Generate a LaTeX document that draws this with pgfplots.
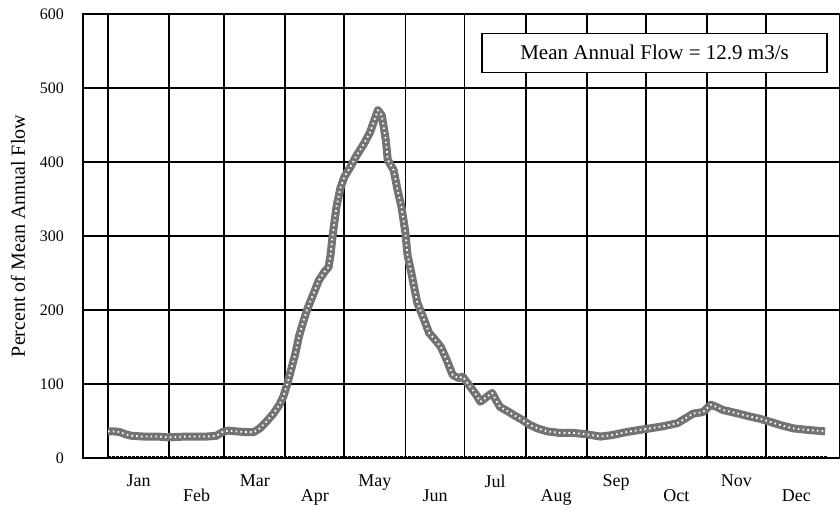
\documentclass[border=0pt]{standalone}
\usepackage{fontspec}
\setmainfont{Liberation Serif}
\usepackage{pgfplots}
\pgfplotsset{compat=1.18}
\pgfplotstableread{
day val
0 36
3 36
6 35
9 32
12 30
18 29
25 29
30 28
40 29
50 29
55 30
58 35
61 37
65 36
70 35
74 35
77 40
80 48
84 60
87 72
89 83
91 100
93 120
95 140
97 165
99 183
101 200
104 220
107 240
110 252
112 258
113 275
114 300
116 340
118 365
120 380
123 393
126 408
130 425
133 440
135 455
137 470
139 463
141 430
142 403
145 389
147 362
149 339
151 304
152 275
154 250
155 236
157 210
160 190
163 169
166 160
169 150
172 132
175 112
178 108
180 110
182 103
184 96
187 85
189 76
192 82
195 88
197 78
199 69
203 63
206 58
210 52
214 45
218 40
223 36
229 34
236 34
243 32
250 29
256 31
263 35
270 38
275 40
282 43
289 47
294 55
297 60
302 62
306 72
309 69
312 65
320 60
326 56
331 53
336 49
342 44
348 40
355 38
364 36
}\flowdata
\begin{document}
\begin{tikzpicture}
\useasboundingbox (0,0) rectangle (420pt,255.5pt);
\begin{axis}[
  at={(41.5pt,26.5pt)}, anchor=south west,
  scale only axis, width=378.5pt, height=222pt,
  xmin=-12.7, xmax=371.6, ymin=0, ymax=600,
  axis line style={line width=0.9pt},
  xtick={0,31,59,90,120,151,181,212,243,273,304,334},
  xticklabels={},
  extra x ticks={15.5,45,74.5,105,135.5,166,196.5,227.5,258,288.5,319,349.5},
  extra x tick labels={Jan,{\\[3pt]Feb},Mar,{\\[3pt]Apr},May,{\\[3pt]Jun},Jul,{\\[3pt]Aug},Sep,{\\[3pt]Oct},Nov,{\\[3pt]Dec}},
  extra x tick style={grid=none, major tick length=0pt,
     tick label style={font=\fontsize{9}{10}\selectfont, align=center, anchor=north, yshift=-5pt}},
  ytick={0,100,200,300,400,500,600},
  major tick length=0pt,
  xmajorgrids, ymajorgrids,
  grid style={line width=0.9pt, black},
  /pgf/number format/assume math mode=true,
  yticklabel style={font=\fontsize{8}{9}\selectfont, xshift=-6pt},
  ylabel={Percent of Mean Annual Flow},
  ylabel style={font=\fontsize{10}{12}\selectfont},
  every axis y label/.style={at={(axis description cs:-0.086,0.5)}, rotate=90, anchor=center},
]
\addplot[black, line width=2pt, dash pattern=on 1.5pt off 0.5pt] coordinates {(0,0) (365,0)};
\addplot[black!55, line width=4pt, line join=round] table[x=day, y=val] {\flowdata};
\addplot[white, line width=0.9pt, dash pattern=on 0.8pt off 1.6pt, line join=round] table[x=day, y=val] {\flowdata};
\node[draw, line width=0.6pt, fill=white, minimum width=172.5pt, minimum height=19.5pt,
  font=\fontsize{10.5}{12}\selectfont] at (rel axis cs:0.755,0.913) {Mean Annual Flow = 12.9 m3/s};
\end{axis}
\end{tikzpicture}
\end{document}
